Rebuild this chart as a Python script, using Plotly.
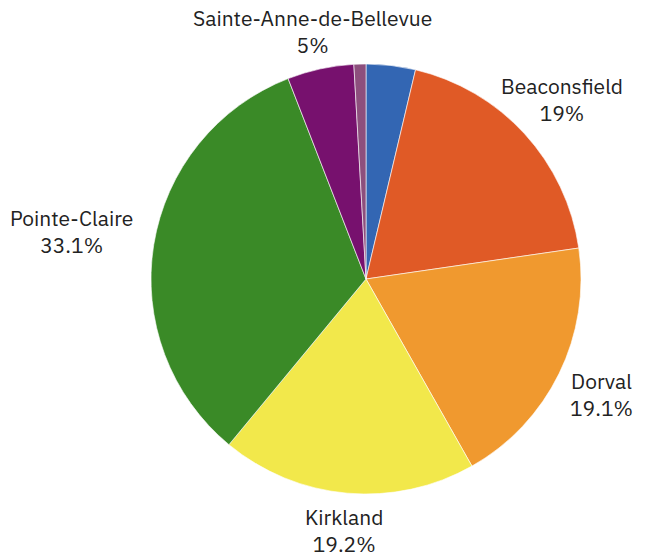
import math
import plotly.graph_objects as go

labels = ["Other A", "Beaconsfield", "Dorval", "Kirkland", "Pointe-Claire",
          "Sainte-Anne-de-Bellevue", "Other B"]
values = [3.7, 19.0, 19.1, 19.2, 33.1, 5.0, 0.9]
show_label = [False, True, True, True, True, True, False]
colors = ["#3366b3", "#e05a26", "#f0992f", "#f2e84b", "#3a8a27", "#77116e", "#8d4f7d"]

# page body has an 8px default margin, so the figure is drawn slightly smaller
W, H = 637, 544
ML, MR, MT, MB = 79, 0, 56, 58
PW, PH = W - ML - MR, H - MT - MB
R = min(PW, PH) / 2
GAP = 10
FSIZE = 21
CHAR_W = 0.53 * FSIZE      # approximate average glyph width
LINE_H = 1.3 * FSIZE       # plotly line spacing
FONT = dict(family="IBM Plex Sans, Noto Sans, sans-serif", size=FSIZE, color="#222222")

fig = go.Figure(go.Pie(
    labels=labels,
    values=values,
    textinfo="none",
    sort=False,
    direction="clockwise",
    rotation=0,
    marker=dict(colors=colors, line=dict(color="rgba(255,255,255,0.6)", width=1)),
    hoverinfo="none",
    showlegend=False,
))

# outside labels: centred on each slice's mid-angle, box edge a small gap off the rim
total = sum(values)
cum = 0.0
annotations = []
for lab, v, show in zip(labels, values, show_label):
    mid = (cum + v / 2) / total * 2 * math.pi
    cum += v
    if not show:
        continue
    s, c = math.sin(mid), math.cos(mid)
    lines = [lab, f"{round(v / total * 100, 1):g}%"]
    hw = max(len(t) for t in lines) * CHAR_W / 2
    hh = len(lines) * LINE_H / 2
    ext = min(hw / max(abs(s), 1e-6), hh / max(abs(c), 1e-6))
    d = R + GAP + ext
    annotations.append(dict(
        text="<br>".join(lines),
        x=0.5 + d * s / PW, y=0.5 + d * c / PH,
        xref="paper", yref="paper",
        xanchor="center", yanchor="middle", align="center",
        showarrow=False, font=FONT,
    ))

fig.update_layout(
    width=W, height=H,
    margin=dict(l=ML, r=MR, t=MT, b=MB),
    paper_bgcolor="white",
    plot_bgcolor="white",
    annotations=annotations,
)

fig.write_html("out.html")
